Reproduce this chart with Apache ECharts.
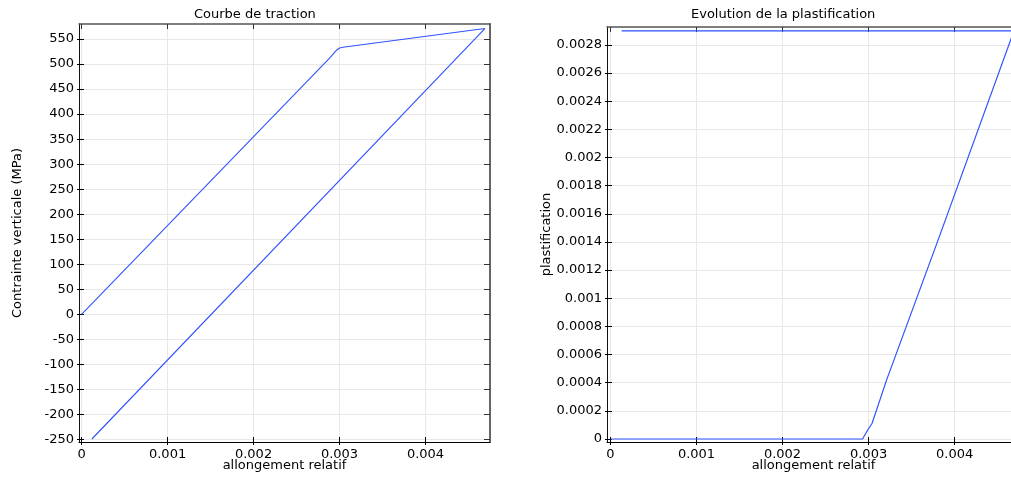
<!DOCTYPE html>
<html><head><meta charset="utf-8">
<script src="https://cdn.jsdelivr.net/npm/echarts@6/dist/echarts.min.js"></script>
<style>html,body{margin:0;padding:0;background:#fff;overflow:hidden}#c{width:1011px;height:477px}</style>
</head><body><div id="c"></div>
<script>
// ---- data ----
const strainTicks = [0, 0.001, 0.002, 0.003, 0.004];
const stressTicks = [-250, -200, -150, -100, -50, 0, 50, 100, 150, 200, 250, 300, 350, 400, 450, 500, 550];
const plastTicks = [0, 0.0002, 0.0004, 0.0006, 0.0008, 0.001, 0.0012, 0.0014, 0.0016, 0.0018, 0.002, 0.0022, 0.0024, 0.0026, 0.0028];
// stress-strain curve (strain, MPa)
const stressCurve = [[0, 0], [0.00289, 513], [0.00293, 521], [0.00296, 527], [0.00300, 532], [0.00306, 534], [0.00469, 571], [0.00012, -249]];
// plastic strain vs strain
const plastCurve = [[0, 0], [0.00293, 0], [0.00299, 0.000064], [0.00304, 0.00011], [0.00321, 0.00042], [0.00383, 0.00145], [0.00469, 0.0029], [0.00013, 0.0029]];

const FONT = 'DejaVu Sans';
const fmt = v => String(+(+v).toFixed(5));
const lineColor = '#2f52ff';

function xAxes(grid, min, max, ticks, name) {
  return [
    { gridIndex: grid, type: 'value', position: 'bottom', min, max, name, nameLocation: 'middle', nameGap: 17,
      nameMoveOverlap: false,
      nameTextStyle: { fontFamily: FONT, fontSize: 13, color: '#000' },
      axisLine: { show: true, onZero: false, lineStyle: { color: '#000', width: 1 } },
      axisTick: { show: true, inside: false, length: 3, customValues: ticks, lineStyle: { color: '#000' } },
      axisLabel: { customValues: ticks, formatter: fmt, fontFamily: FONT, fontSize: 13, color: '#000', margin: 6 },
      splitLine: { show: true, lineStyle: { color: '#e8e8e8', width: 1 } } },
    { gridIndex: grid, type: 'value', position: 'bottom', min, max,
      axisLine: { show: false, onZero: false },
      axisTick: { show: true, inside: true, length: 5, customValues: ticks, lineStyle: { color: '#000' } },
      axisLabel: { show: false }, splitLine: { show: false } },
    { gridIndex: grid, type: 'value', position: 'top', min, max,
      axisLine: { show: true, onZero: false, lineStyle: { color: '#555', width: 1.5 } },
      axisTick: { show: true, inside: true, length: 5, customValues: ticks, lineStyle: { color: '#333' } },
      axisLabel: { show: false }, splitLine: { show: false } }
  ];
}
function yAxes(grid, min, max, ticks, name, gap) {
  return [
    { gridIndex: grid, type: 'value', position: 'left', min, max, name, nameLocation: 'middle', nameGap: gap,
      nameMoveOverlap: false,
      nameTextStyle: { fontFamily: FONT, fontSize: 13, color: '#000' },
      axisLine: { show: true, onZero: false, lineStyle: { color: '#111', width: 1 } },
      axisTick: { show: true, inside: false, length: 2, customValues: ticks, lineStyle: { color: '#000' } },
      axisLabel: { customValues: ticks, formatter: fmt, fontFamily: FONT, fontSize: 13, color: '#000', margin: 5 },
      splitLine: { show: true, lineStyle: { color: '#e8e8e8', width: 1 } } },
    { gridIndex: grid, type: 'value', position: 'left', min, max,
      axisLine: { show: false, onZero: false },
      axisTick: { show: true, inside: true, length: 5, customValues: ticks, lineStyle: { color: '#000' } },
      axisLabel: { show: false }, splitLine: { show: false } },
    { gridIndex: grid, type: 'value', position: 'right', min, max,
      axisLine: { show: true, onZero: false, lineStyle: { color: '#666', width: 2 } },
      axisTick: { show: true, inside: true, length: 6, customValues: ticks, lineStyle: { color: '#333' } },
      axisLabel: { show: false }, splitLine: { show: false } }
  ];
}

const chart = echarts.init(document.getElementById('c'), null, { renderer: 'canvas' });
chart.setOption({
  animation: false,
  backgroundColor: '#fff',
  textStyle: { fontFamily: FONT },
  title: [
    { text: 'Courbe de traction', left: 189, top: 3, textStyle: { fontFamily: FONT, fontSize: 13, fontWeight: 'normal', color: '#000' } },
    { text: 'Evolution de la plastification', left: 686, top: 3, textStyle: { fontFamily: FONT, fontSize: 13, fontWeight: 'normal', color: '#000' } }
  ],
  grid: [
    { left: 79, top: 24, width: 411, height: 418, containLabel: false, outerBoundsMode: 'none' },
    { left: 607, top: 27, width: 413, height: 415, containLabel: false, outerBoundsMode: 'none' }
  ],
  xAxis: [
    ...xAxes(0, -0.00003, 0.00475, strainTicks, 'allongement relatif'),
    ...xAxes(1, -0.00004, 0.00476, strainTicks, 'allongement relatif')
  ],
  yAxis: [
    ...yAxes(0, -255, 580, stressTicks, 'Contrainte verticale (MPa)', 55),
    ...yAxes(1, -0.0000213, 0.002927, plastTicks, 'plastification', 54)
  ],
  series: [
    { type: 'line', xAxisIndex: 0, yAxisIndex: 0, data: stressCurve, showSymbol: false, symbol: 'none',
      lineStyle: { color: lineColor, width: 1.1 }, clip: true },
    { type: 'line', xAxisIndex: 3, yAxisIndex: 3, data: plastCurve, showSymbol: false, symbol: 'none',
      lineStyle: { color: lineColor, width: 1.2 }, clip: true }
  ]
});
</script></body></html>
